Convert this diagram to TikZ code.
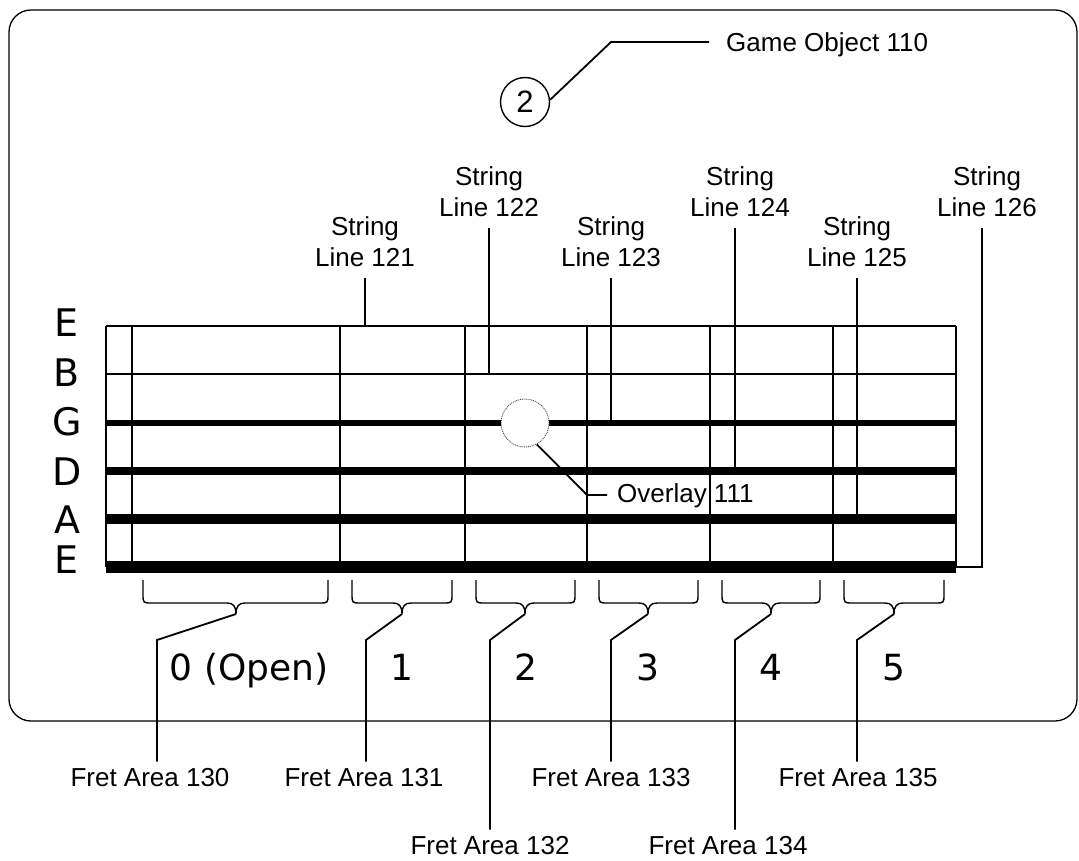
\documentclass[tikz,border=0pt]{standalone}
\usepackage{fontspec}
\setmainfont{Liberation Sans}
\newfontfamily\comicf{DejaVu Sans}
\begin{document}
\begin{tikzpicture}[x=1pt,y=-1pt,
  lbl/.style={font=\fontsize{26}{31}\selectfont, align=center, inner sep=0pt},
  bigletter/.style={font=\comicf\fontsize{38}{40}\selectfont, inner sep=0pt, anchor=base},
  bignum/.style={font=\comicf\fontsize{36}{40}\selectfont, inner sep=0pt, anchor=base},
  lead/.style={line width=1.8pt},
  fretline/.style={line width=2.4pt},
  bracepath/.style={line width=1.4pt},
  frame/.style={line width=1.3pt, rounded corners=22pt}]
\useasboundingbox (0,0) rectangle (1079,860);

% outer frame
\draw[frame] (9,10) rectangle (1077,721);

% string rows (named coordinates at left and right ends)
\foreach \n/\y/\w in {e1/326/2, b2/374/2.5, g3/423/5.5, d4/471/8, a5/519/10, e6/567/12}{
  \coordinate (\n) at (106,\y);
  \coordinate (\n r) at (956,\y);
  \draw[line width=\w pt] (\n) -- (\n r);
}
% frets
\foreach \x in {106,132,340,465,587,710,833,956}
  \draw[fretline] (\x,326) -- (\x,567);

% string letters
\foreach \t/\y [count=\i] in {E/323,B/373,G/422,D/472,A/520,E/560}
  \node[bigletter] (let\i) at (67,{\y+13.5}) {\t};

% string line labels
\node[lbl] (s121) at (365,241.5) {String\\Line 121};
\node[lbl] (s122) at (489,192) {String\\Line 122};
\node[lbl] (s123) at (611,241.5) {String\\Line 123};
\node[lbl] (s124) at (740,192) {String\\Line 124};
\node[lbl] (s125) at (857,241.5) {String\\Line 125};
\node[lbl] (s126) at (987,192) {String\\Line 126};

\draw[lead, shorten <=11pt] (s121.south) -- (s121.south |- e1);
\draw[lead, shorten <=11pt] (s122.south) -- (s122.south |- b2);
\draw[lead, shorten <=11pt] (s123.south) -- (s123.south |- g3);
\draw[lead, shorten <=11pt] ([xshift=-5pt]s124.south) -- ([xshift=-5pt]s124.south |- d4);
\draw[lead, shorten <=11pt] (s125.south) -- (s125.south |- a5);
\draw[lead, shorten <=11pt] ([xshift=-5pt]s126.south) -- ([xshift=-5pt]s126.south |- e6) -- (e6r);

% game object
\node[lbl, anchor=west] (go) at (726,45) {Game Object 110};
\node[circle, draw, line width=1.4pt, minimum size=49pt, inner sep=0pt,
      font=\fontsize{31}{31}\selectfont] (c2) at (525,102) {2};
\coordinate (gs) at (709,42);
\coordinate (gk) at (611,42);
\draw[lead] (gs) -- (gk) -- (c2.5);

% overlay
\node[circle, draw=black!75, densely dotted, line width=0.9pt, fill=white,
      minimum size=48pt, inner sep=0pt] (ov) at (525,423) {};
\node[lbl, anchor=base west] (ovl) at (617,502.5) {Overlay 111};
\coordinate (ok1) at (587,495);
\coordinate (ok2) at (607,495);
\draw[lead] (ov.-61) -- (ok1) -- (ok2);

% braces, fret numbers and fret area labels
\foreach \i/\l/\r/\m/\b/\lx/\ly in {0/143/328/236/157/150/778, 1/352/452/402/366/364/778,
   2/476/575/525/490/490/846, 3/599/698/648/611/611/778, 4/722/820/771/735/728/846,
   5/844/944/894/857/858/778}{
  \draw[bracepath] (\l,580) -- (\l,594) .. controls (\l,603) .. ({\l+9},603)
     -- ({\m-9},603) .. controls ({\m-3},603) and (\m,606) .. (\m,614)
     .. controls (\m,606) and ({\m+3},603) .. ({\m+9},603)
     -- ({\r-9},603) .. controls (\r,603) .. (\r,594) -- (\r,580);
  \coordinate (tip\i) at (\m,614);
  \coordinate (bend\i) at (\b,640);
  \node[lbl] (fa\i) at (\lx,\ly) {Fret Area 13\i};
  \draw[lead, shorten >=7pt] (tip\i) -- (bend\i) -- (bend\i |- fa\i.north);
}
\node[bignum] (n0) at (249,680) {0 (Open)};
\node[bignum] (n1) at (402,680) {1};
\node[bignum] (n2) at (526,680) {2};
\node[bignum] (n3) at (648,680) {3};
\node[bignum] (n4) at (771,680) {4};
\node[bignum] (n5) at (894,680) {5};
\end{tikzpicture}
\end{document}
